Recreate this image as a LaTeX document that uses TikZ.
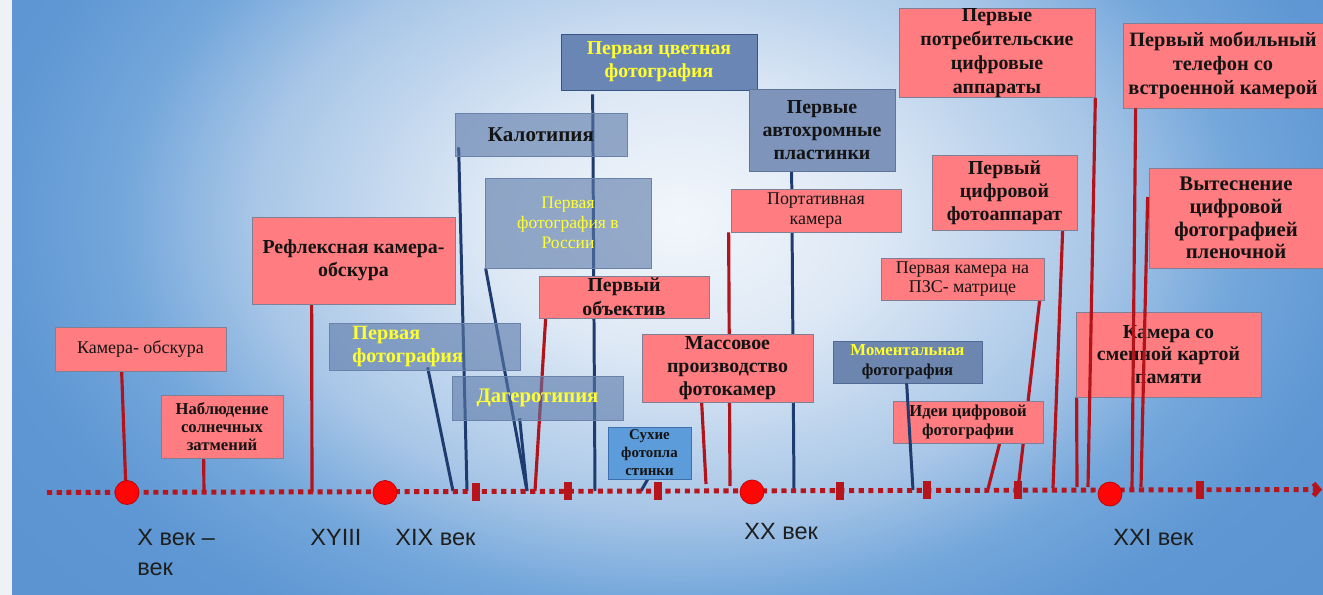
\documentclass[tikz,border=0pt]{standalone}
\usepackage{fontspec}
\setmainfont{Liberation Serif}
\setsansfont{Liberation Sans}
\usetikzlibrary{calc,arrows.meta}

\definecolor{pinkfill}{HTML}{FF7C80}
\definecolor{boxedge}{HTML}{7F7F96}
\definecolor{glassfill}{HTML}{5A78A8}
\definecolor{glassedge}{HTML}{6B82AB}
\definecolor{colorfill}{HTML}{6A86B5}
\definecolor{coloredge}{HTML}{3A5486}
\definecolor{slatefill}{HTML}{7E94BA}
\definecolor{slateedge}{HTML}{5F7598}
\definecolor{momentfill}{HTML}{6C86B0}
\definecolor{momentedge}{HTML}{4F6A96}
\definecolor{dryfill}{HTML}{5D9CDA}
\definecolor{dryedge}{HTML}{3E6FAE}
\definecolor{linkred}{HTML}{B3141C}
\definecolor{linkblue}{HTML}{1F3C70}
\definecolor{axisred}{HTML}{B8141C}
\definecolor{dotred}{HTML}{FF0505}
\definecolor{dotedge}{HTML}{C00000}
\definecolor{ytext}{HTML}{FFFF30}
\definecolor{bodytext}{HTML}{141414}
\definecolor{eratext}{HTML}{1E1E1E}
\definecolor{stripfill}{HTML}{EEF1F5}
\definecolor{bgA}{HTML}{F2F6FB}
\definecolor{bgB}{HTML}{DDE8F5}
\definecolor{bgC}{HTML}{A8C6E7}
\definecolor{bgD}{HTML}{74A7DB}
\definecolor{bgE}{HTML}{5E97D3}
\definecolor{bgF}{HTML}{5B94D0}

\pgfdeclareradialshading{bgglow}{\pgfpoint{0bp}{0bp}}{color(0bp)=(bgA); color(6bp)=(bgB); color(13bp)=(bgC); color(17bp)=(bgD); color(21bp)=(bgE); color(25bp)=(bgF); color(50bp)=(bgF)}

\pgfdeclarelayer{bg}
\pgfdeclarelayer{links}
\pgfsetlayers{bg,links,main}

\tikzset{
  wh/.style 2 args={minimum width={#1*0.02cm},minimum height={#2*0.02cm}},
  pinkbox/.style={draw=boxedge,fill=pinkfill,text=bodytext},
  glassbox/.style={draw=glassedge,fill=glassfill,fill opacity=0.6,text opacity=1,text=bodytext},
  colorbox/.style={draw=coloredge,fill=colorfill},
  slatebox/.style={draw=slateedge,fill=slatefill,text=bodytext},
  momentbox/.style={draw=momentedge,fill=momentfill,text=bodytext},
  drybox/.style={draw=dryedge,fill=dryfill,text=bodytext},
  bigtext/.style={font=\fontsize{11.3}{13}\selectfont\bfseries},
  smalltext/.style={font=\fontsize{10.2}{11.3}\selectfont},
  boldsmall/.style={font=\fontsize{9.5}{11.3}\selectfont\bfseries},
  drytext/.style={font=\fontsize{8.5}{10.2}\selectfont\bfseries},
  era/.style={font=\sffamily\fontsize{13.4}{17}\selectfont,text=eratext,align=left,anchor=base west},
  redlink/.style={draw=linkred,line width=1.8pt},
  bluelink/.style={draw=linkblue,line width=1.7pt},
  timeline/.style={draw=axisred,line width=2.8pt,dash pattern=on 2.9pt off 2.6pt,-{Straight Barb[length=3pt,width=7pt]}},
  tick/.style={fill=axisred,minimum width={8*0.02cm},minimum height={18*0.02cm}},
  dot/.style={circle,fill=dotred,draw=dotedge,thin,minimum size={24*0.02cm}}
}

\begin{document}
\begin{tikzpicture}[x=0.02cm,y=-0.02cm,every node/.style={inner sep=0pt,align=center}]
  \useasboundingbox (0,0) rectangle (1323,595);

  \begin{pgfonlayer}{bg}
    \fill[stripfill] (0,0) rectangle (12,595);
    \begin{scope}
      \clip (12,0) rectangle (1323,595);
      \fill[bgF] (12,0) rectangle (1323,595);
      \shade[shading=bgglow] (680,220) ellipse [x radius=820,y radius=560];
    \end{scope}
  \end{pgfonlayer}

  % events
  \node[pinkbox,smalltext,wh={171}{44}] (CamObs) at (140.5,349) {Камера- обскура};
  \node[pinkbox,boldsmall,font=\fontsize{9.5}{10.2}\selectfont\bfseries,wh={122}{63}] (Eclipse) at (222,426.5) {Наблюдение\\солнечных\\затмений};
  \node[pinkbox,bigtext,wh={203}{87}] (Reflex) at (353.5,260.5) {Рефлексная камера-\\обскура};
  \node[glassbox,wh={191}{47}] (FirstPh) at (424.5,346.5) {};
  \node[bigtext,font=\fontsize{11.5}{13}\selectfont\bfseries,text=ytext,align=left,anchor=west] (FirstPhT) at (352,346.5) {Первая\\фотография};
  \node[glassbox,bigtext,font=\fontsize{12}{13}\selectfont\bfseries,wh={172}{43}] (Calo) at (541,134.5) {Калотипия};
  \node[colorbox,bigtext,text=ytext,wh={196}{56}] (ColorPh) at (659,62) {Первая цветная\\фотография};
  \node[glassbox,smalltext,font=\fontsize{10}{11.3}\selectfont,text=ytext,wh={166}{90}] (Russia) at (568,223) {Первая\\фотография в\\России};
  \node[pinkbox,bigtext,font=\fontsize{11.3}{13.5}\selectfont\bfseries,wh={170}{42}] (Lens) at (624,297) {Первый\\объектив};
  \node[glassbox,bigtext,font=\fontsize{11.8}{13}\selectfont\bfseries,text=ytext,wh={171}{44}] (Daguerre) at (537.5,398) {Дагеротипия};
  \node[drybox,drytext,wh={83}{52}] (DryPl) at (649.5,453) {Сухие\\фотопла\\стинки};
  \node[pinkbox,bigtext,wh={171}{68}] (Mass) at (727.5,368) {Массовое\\производство\\фотокамер};
  \node[pinkbox,smalltext,wh={170}{43}] (Portable) at (816,210.5) {Портативная\\камера};
  \node[slatebox,bigtext,wh={146}{82}] (Autochrome) at (822,130) {Первые\\автохромные\\пластинки};
  \node[momentbox,boldsmall,wh={149}{42}] (Instant) at (907.5,362) {\textcolor{ytext}{Моментальная}\\фотография};
  \node[pinkbox,boldsmall,wh={150}{42}] (Ideas) at (968,422) {Идеи цифровой\\фотографии};
  \node[pinkbox,smalltext,wh={163}{42}] (CCD) at (962.5,279) {Первая камера на\\ПЗС- матрице};
  \node[pinkbox,bigtext,wh={145}{75}] (Digital) at (1004.5,192.5) {Первый\\цифровой\\фотоаппарат};
  \node[pinkbox,bigtext,font=\fontsize{11.3}{13.6}\selectfont\bfseries,wh={196}{86}] (Consumer) at (997,53) {Первые\\потребительские\\цифровые\\аппараты};
  \node[pinkbox,bigtext,font=\fontsize{11.6}{13.6}\selectfont\bfseries,wh={200}{85}] (Mobile) at (1223,65.5) {Первый мобильный\\телефон со\\встроенной камерой};
  \node[pinkbox,bigtext,font=\fontsize{11.8}{13}\selectfont\bfseries,wh={174}{100}] (Displace) at (1236,218) {Вытеснение\\цифровой\\фотографией\\пленочной};
  \node[pinkbox,bigtext,wh={185}{85}] (MemCard) at (1168.5,354.5) {Камера со\\сменной картой\\памяти};

  % where the links meet the time line
  \coordinate (tCamObs) at (126,492);
  \coordinate (tEclipse) at (204,492);
  \coordinate (tReflex) at (312,492);
  \coordinate (tFirstPh) at (453,491);
  \coordinate (tCalo) at (467,491);
  \coordinate (tColorPh) at (595,491);
  \coordinate (tRussia) at (527,491);
  \coordinate (tLens) at (535,491);
  \coordinate (tDaguerre) at (527,491);
  \coordinate (tDryPl) at (641,491);
  \coordinate (tMass) at (706,484);
  \coordinate (tPortable) at (730,486);
  \coordinate (tAutochrome) at (794,490);
  \coordinate (tInstant) at (913,490);
  \coordinate (tIdeas) at (988,489);
  \coordinate (tCCD) at (1018,489);
  \coordinate (tDigital) at (1053,488);
  \coordinate (tConsumer) at (1088,487);
  \coordinate (tMobile) at (1132,489);
  \coordinate (tDisplace) at (1141,487);
  \coordinate (tMemCard) at (1077,487);

  \begin{pgfonlayer}{links}
    \path [redlink]($(CamObs.south west)+(67,0)$) edge (tCamObs);
    \path [redlink]($(Eclipse.south west)+(43,0)$) edge (tEclipse);
    \path [redlink]($(Reflex.south west)+(60,0)$) edge (tReflex);
    \path [bluelink]($(FirstPh.south west)+(99,-3)$) edge (tFirstPh);
    \path [bluelink]($(Calo.south west)+(4,-9)$) edge (tCalo);
    \path [bluelink]($(ColorPh.south west)+(32,4)$) edge (tColorPh);
    \path [bluelink]($(Russia.south west)+(1,0)$) edge (tRussia);
    \path [redlink]($(Lens.south west)+(7,0)$) edge (tLens);
    \path [bluelink]($(Daguerre.south west)+(68,-2)$) edge (tDaguerre);
    \path [bluelink]($(DryPl.south west)+(40,0)$) edge (tDryPl);
    \path [redlink]($(Mass.south west)+(60,0)$) edge (tMass);
    \path [redlink]($(Portable.south west)+(-2,0)$) edge (tPortable);
    \path [bluelink]($(Autochrome.south west)+(43,0)$) edge (tAutochrome);
    \path [redlink]($(Ideas.south west)+(107,0)$) edge (tIdeas);
    \path [redlink]($(CCD.south west)+(159,0)$) edge (tCCD);
    \path [redlink]($(Digital.south west)+(131,0)$) edge (tDigital);
    \path [redlink]($(MemCard.south west)+(1,0)$) edge (tMemCard);
  \end{pgfonlayer}

  % these run over the boxes
  \path [bluelink]($(Instant.south west)+(74,0)$) edge (tInstant);
  \path [redlink](Consumer.south east) edge (tConsumer);
  \path [redlink]($(Mobile.south west)+(13,0)$) edge (tMobile);
  \path [redlink]($(Displace.west)+(-1,-21)$) edge (tDisplace);

  % time line
  \coordinate (axL) at (47,492.5);
  \coordinate (axR) at (1322,489.5);
  \draw [timeline](axL) -- (axR);

  \node[tick] (k1) at (476,491.5) {};
  \node[tick] (k2) at (568,491.3) {};
  \node[tick] (k3) at (658,491.1) {};
  \node[tick] (k4) at (840,490.6) {};
  \node[tick] (k5) at (927,490.4) {};
  \node[tick] (k6) at (1018,490.2) {};
  \node[tick] (k7) at (1200,489.8) {};

  \node[dot] (c10) at (127,492.5) {};
  \node[dot] (c19) at (385,492.5) {};
  \node[dot] (c20) at (752,492) {};
  \node[dot] (c21) at (1110,494) {};

  \node[era] (eraX) at (137,575) {X век –\\век};
  \node[era] (era18) at (310,545) {XYIII};
  \node[era] (era19) at (395,545) {XIX век};
  \node[era] (era20) at (744,539) {XX век};
  \node[era] (era21) at (1113,545) {XXI век};
\end{tikzpicture}
\end{document}
